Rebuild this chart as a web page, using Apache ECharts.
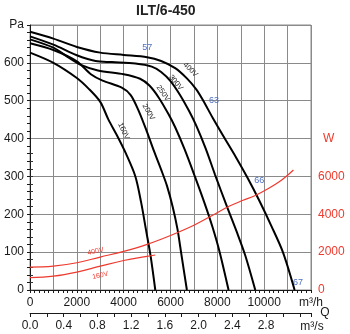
<!DOCTYPE html>
<html><head><meta charset="utf-8">
<script src="https://cdn.jsdelivr.net/npm/echarts@6/dist/echarts.min.js"></script>
<style>html,body{margin:0;padding:0;background:#fff}#c{width:350px;height:334px}</style>
</head><body><div id="c"></div>
<script>
// ---- data ----
const titleText = 'ILT/6-450';
const curve400V = [[0,682],[1000,664],[2000,642],[3000,627],[4000,621],[5000,615],[5600,605],[6200,586],[6700,559],[7100,530],[7400,500],[7800,455],[8300,402],[8800,350],[9300,295],[9800,235],[10300,170],[10800,100],[11300,0]];
const curve300V = [[0,670],[1000,648],[2000,620],[2800,605],[3500,602],[4500,598],[5200,590],[5600,576],[6000,552],[6400,516],[6800,472],[7100,434],[7500,374],[7900,305],[8400,222],[8850,150],[9200,90],[9620,0]];
const curve250V = [[0,662],[1000,640],[1600,616],[2200,594],[2900,580],[4000,570],[4700,558],[5100,540],[5500,508],[5900,466],[6200,430],[6600,372],[7040,300],[7450,230],[7800,165],[8100,100],[8480,0]];
const curve200V = [[0,652],[1000,634],[2000,604],[2600,570],[3100,553],[3900,535],[4300,515],[4650,472],[5000,417],[5300,366],[5600,318],[5850,275],[6100,218],[6300,160],[6450,100],[6700,0]];
const curve160V = [[0,627],[1000,600],[2000,560],[2500,532],[3000,497],[3350,450],[3700,410],[4100,360],[4500,300],[4750,230],[4950,160],[5150,90],[5350,0]];
const power400V = [[0,1210],[1000,1260],[2000,1440],[3000,1740],[4000,2040],[5000,2410],[6000,2880],[7000,3420],[7800,3950],[8500,4420],[9100,4740],[9600,4980],[10200,5370],[10750,5810],[11250,6340]];
const power160V = [[0,650],[1000,730],[2000,945],[3000,1260],[4000,1560],[5000,1780],[5350,1850]];
const flowMax = 12000;          // m3/h
const pressureMax = 700;        // Pa
const powerMax = 7200;          // W
const flowLabelStep = 2000;
const powerLabelStep = 2000;
const curveNames = ['400V','300V','250V','200V','160V'];
const curveLabelAt = [[6850,582],[6230,548],[5680,520],[5060,470],[4000,420]];
const powerNames = ['400V','160V'];
const powerLabelAt = [[2800,2040],[3000,770]];
const effTexts = ['57','63','66','67'];
const effAt = [[5010,641],[7860,500],[9790,290],[11450,20]];
const unitFlowH = 'm³/h', unitFlowS = 'm³/s', unitQ = 'Q', unitPa = 'Pa', unitW = 'W';

// ---- chart ----
const FONT = '"Liberation Sans", Arial, sans-serif';
const RED = '#ee3a2e', BLUE = '#4d70c0', GRIDC = '#8a8a8a', INK = '#1a1a1a';
const chart = echarts.init(document.getElementById('c'));
const pressureSeries = [curve400V, curve300V, curve250V, curve200V, curve160V];
const powerSeries = [power400V, power160V];

const option = {
  animation: false,
  title: { text: titleText, left: 136, top: 4, padding: 0,
    textStyle: { fontFamily: FONT, fontSize: 14, fontWeight: 'bold', color: '#222' } },
  grid: [
    { left: 30, right: 39, top: 25, bottom: 44, show: true, borderColor: GRIDC, borderWidth: 1 },
    { left: 30, right: 39, top: 290 - powerMax / 2000 * (265 / 7), bottom: 44 }
  ],
  xAxis: [
    { gridIndex: 0, type: 'value', min: 0, max: flowMax, interval: 1000,
      axisLine: { show: true, onZero: false, lineStyle: { color: INK, width: 1 } },
      axisTick: { show: true, length: 3, lineStyle: { color: INK } },
      minorTick: { show: true, splitNumber: 5, length: 3, lineStyle: { color: INK } },
      splitLine: { show: true, lineStyle: { color: GRIDC, width: 1 } },
      axisLabel: { margin: 7, fontFamily: FONT, fontSize: 12, color: INK,
        formatter: v => v === flowMax ? unitFlowH : (v % flowLabelStep === 0 ? String(v) : '') } },
    { gridIndex: 0, type: 'value', position: 'bottom', offset: 23, min: 0, max: flowMax / 3600, interval: 0.2,
      axisLine: { show: true, onZero: false, lineStyle: { color: INK, width: 1 } },
      axisTick: { show: true, length: 4, lineStyle: { color: INK } },
      splitLine: { show: false },
      axisLabel: { margin: 7, fontFamily: FONT, fontSize: 12, color: INK,
        formatter: v => { const k = Math.round(v * 5); return (k % 2 === 0 && k <= 14) ? (k / 5).toFixed(1) : ''; } } },
    { gridIndex: 1, type: 'value', min: 0, max: flowMax, show: false }
  ],
  yAxis: [
    { gridIndex: 0, type: 'value', min: 0, max: pressureMax, interval: 100,
      axisLine: { show: true, lineStyle: { color: INK, width: 1 } },
      axisTick: { show: true, length: 3, lineStyle: { color: INK } },
      minorTick: { show: true, splitNumber: 5, length: 3, lineStyle: { color: INK } },
      splitLine: { show: true, lineStyle: { color: GRIDC, width: 1 } },
      axisLabel: { margin: 6, fontFamily: FONT, fontSize: 12, color: INK,
        formatter: v => v === pressureMax ? unitPa : String(v) } },
    { gridIndex: 1, type: 'value', position: 'right', min: 0, max: powerMax, interval: 400,
      axisLine: { show: false },
      axisTick: { show: true, length: 3, lineStyle: { color: '#333' } },
      splitLine: { show: false },
      axisLabel: { margin: 7, fontFamily: FONT, fontSize: 12, color: RED,
        formatter: v => (v % powerLabelStep === 0 && v <= 6000) ? String(v) : '' } }
  ],
  series: [
    ...pressureSeries.map((d, i) => ({ type: 'line', name: curveNames[i], xAxisIndex: 0, yAxisIndex: 0, data: d,
      showSymbol: false, smooth: 0.3, lineStyle: { color: '#000', width: 2 }, silent: true })),
    ...powerSeries.map((d, i) => ({ type: 'line', name: 'P' + powerNames[i], xAxisIndex: 2, yAxisIndex: 1, data: d,
      showSymbol: false, smooth: 0.4, lineStyle: { color: RED, width: 1.2 }, silent: true }))
  ]
};
chart.setOption(option);

const rot = [-45, -50, -55, -60, -65];
const g = [];
curveNames.forEach((t, i) => {
  const p = chart.convertToPixel({ seriesIndex: 0 }, curveLabelAt[i]);
  g.push({ type: 'text', x: p[0], y: p[1], rotation: rot[i] * Math.PI / 180,
    style: { text: t, fill: '#222', font: '7.5px ' + FONT, align: 'center', verticalAlign: 'middle' } });
});
powerNames.forEach((t, i) => {
  const p = chart.convertToPixel({ seriesIndex: 5 }, powerLabelAt[i]);
  g.push({ type: 'text', x: p[0], y: p[1], rotation: 12 * Math.PI / 180,
    style: { text: t, fill: RED, font: '7px ' + FONT, align: 'center', verticalAlign: 'middle' } });
});
effTexts.forEach((t, i) => {
  const p = chart.convertToPixel({ seriesIndex: 0 }, effAt[i]);
  g.push({ type: 'text', x: p[0], y: p[1],
    style: { text: t, fill: BLUE, font: '9px ' + FONT, align: 'center', verticalAlign: 'middle' } });
});
const pW = chart.convertToPixel({ seriesIndex: 5 }, [flowMax, 8000]);
g.push({ type: 'text', x: pW[0] + 12, y: pW[1], style: { text: unitW, fill: RED, font: '12px ' + FONT, align: 'left', verticalAlign: 'middle' } });
const pS = chart.convertToPixel({ seriesIndex: 0 }, [flowMax, 0]);
g.push({ type: 'text', x: pS[0] + 1, y: pS[1] + 37, style: { text: unitFlowS, fill: INK, font: '12px ' + FONT, align: 'center', verticalAlign: 'middle' } });
g.push({ type: 'text', x: pS[0] + 14, y: pS[1] + 23, style: { text: unitQ, fill: INK, font: '12px ' + FONT, align: 'center', verticalAlign: 'middle' } });
chart.setOption({ graphic: g });
</script>
</body></html>
